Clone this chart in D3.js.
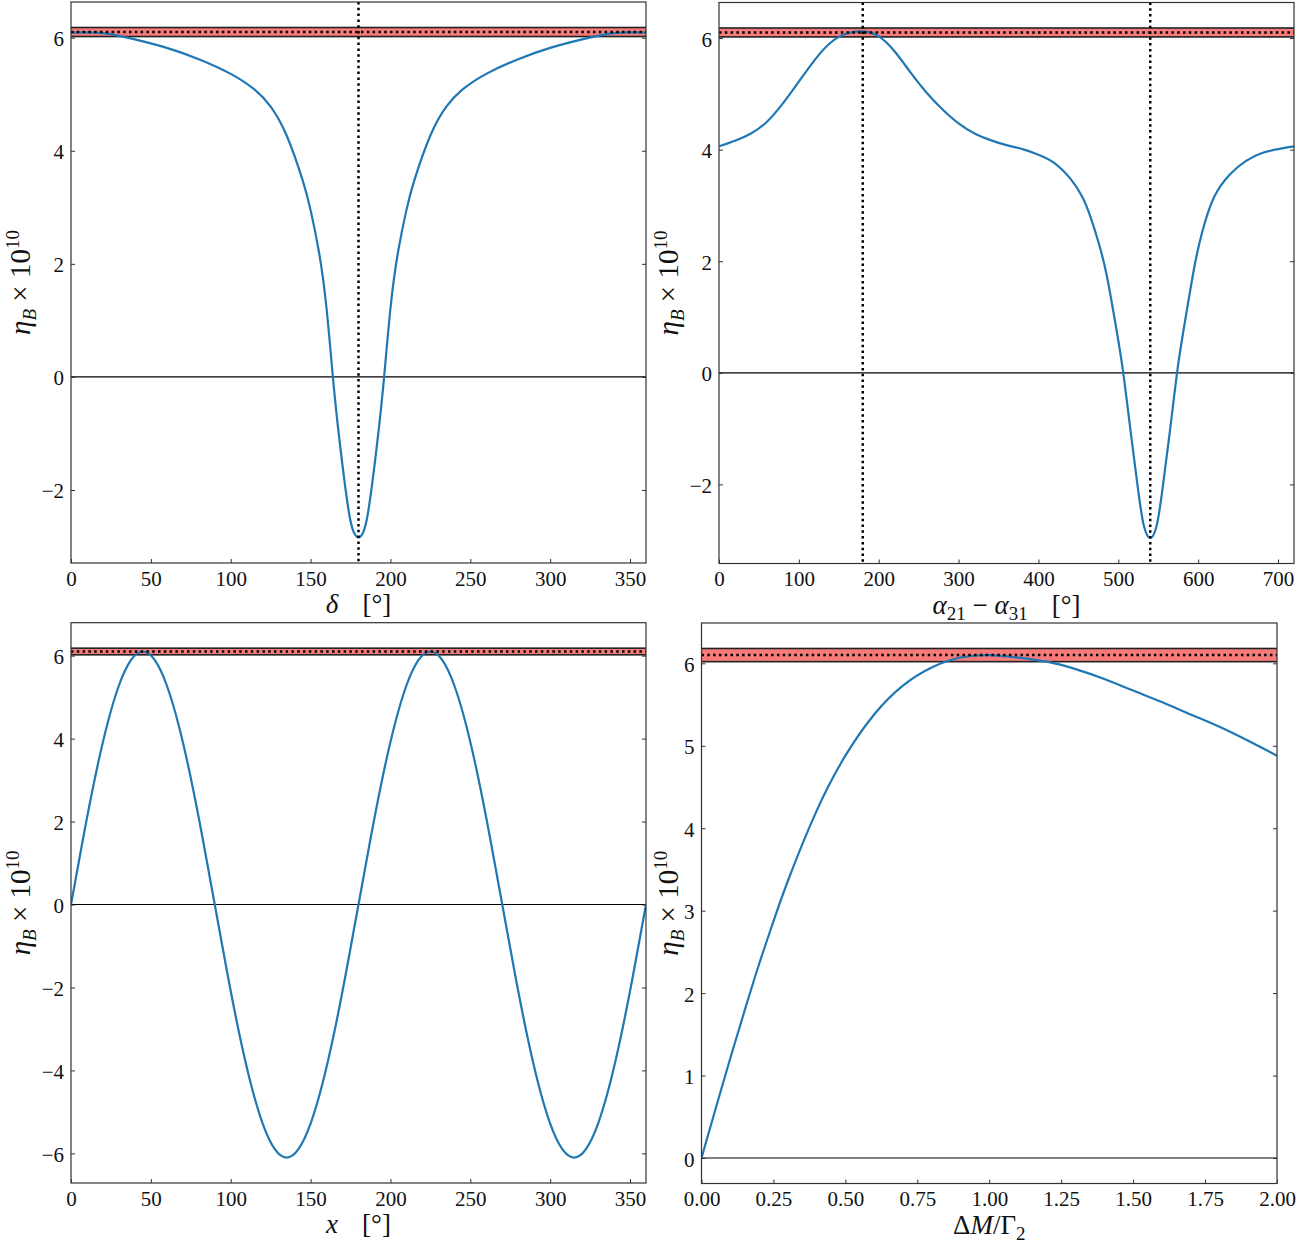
<!DOCTYPE html>
<html>
<head>
<meta charset="utf-8">
<script src="https://cdn.jsdelivr.net/npm/d3@7"></script>
<style>
  body { margin: 0; background: #fff; }
  svg text { font-family: "Liberation Serif", "DejaVu Serif", serif; fill: #111; }
</style>
</head>
<body>
<svg id="fig" width="1296" height="1242"></svg>
<script>
// ---- data ----
// eta_B x 10^10 against the Dirac phase delta
var deltaDeg = [0, 20, 40, 60, 80, 100, 115, 125, 135, 145, 150, 155, 160, 165, 170, 175, 180,
                185, 190, 195, 200, 205, 210, 215, 225, 235, 245, 260, 280, 300, 320, 340, 360];
var etaDelta = [6.09, 6.08, 5.97, 5.82, 5.62, 5.36, 5.08, 4.78, 4.27, 3.48, 2.95, 2.25, 1.21, -0.31, -1.57, -2.55, -2.84,
                -2.55, -1.57, -0.31, 1.21, 2.25, 2.95, 3.48, 4.27, 4.78, 5.08, 5.36, 5.62, 5.82, 5.97, 6.08, 6.09];

// against the Majorana phase difference alpha21 - alpha31
var alphaDiff = [0, 20, 40, 60, 80, 100, 120, 140, 160, 180, 200, 220, 240, 260, 280, 300, 320, 340, 360,
                 380, 400, 420, 440, 455, 465, 475, 485, 495, 505, 515, 525, 532, 540, 548, 555, 565, 575,
                 585, 595, 605, 620, 640, 660, 680, 700, 720];
var etaAlpha = [4.06, 4.16, 4.29, 4.50, 4.83, 5.22, 5.61, 5.92, 6.08, 6.12, 6.03, 5.76, 5.38, 5.02, 4.72, 4.47, 4.29, 4.17, 4.08,
                4.01, 3.91, 3.76, 3.48, 3.15, 2.80, 2.35, 1.78, 1.00, 0.12, -1.00, -2.12, -2.74, -2.96, -2.74, -2.12, -1.00, 0.15,
                1.05, 1.88, 2.52, 3.15, 3.56, 3.80, 3.94, 4.01, 4.06];

// against the complex angle x
var xDeg = [0, 7.5, 15, 22.5, 30, 37.5, 45, 52.5, 60, 67.5, 75, 82.5, 90, 97.5, 105, 112.5, 120, 127.5, 135,
            142.5, 150, 157.5, 165, 172.5, 180, 187.5, 195, 202.5, 210, 217.5, 225, 232.5, 240, 247.5, 255,
            262.5, 270, 277.5, 285, 292.5, 300, 307.5, 315, 322.5, 330, 337.5, 345, 352.5, 360];
var etaX = [0, 1.58, 3.05, 4.31, 5.28, 5.89, 6.10, 5.89, 5.28, 4.31, 3.05, 1.58, 0, -1.58, -3.05, -4.31, -5.28, -5.89, -6.10,
            -5.89, -5.28, -4.31, -3.05, -1.58, 0, 1.58, 3.05, 4.31, 5.28, 5.89, 6.10, 5.89, 5.28, 4.31, 3.05,
            1.58, 0, -1.58, -3.05, -4.31, -5.28, -5.89, -6.10, -5.89, -5.28, -4.31, -3.05, -1.58, 0];

// against the mass splitting Delta M / Gamma_2
var dmRatio = [0, 0.05, 0.1, 0.15, 0.2, 0.25, 0.3, 0.4, 0.5, 0.6, 0.7, 0.8, 0.9, 1.0,
               1.1, 1.2, 1.3, 1.4, 1.5, 1.6, 1.7, 1.8, 1.9, 2.0];
var etaDM = [0, 0.61, 1.21, 1.79, 2.35, 2.87, 3.36, 4.21, 4.88, 5.38, 5.73, 5.95, 6.07, 6.10,
             6.07, 6.02, 5.93, 5.81, 5.67, 5.53, 5.38, 5.23, 5.06, 4.88];

// observed value and its band
var etaObs = 6.10, bandLow = 6.02, bandHigh = 6.18;

var ticksDelta = [0, 50, 100, 150, 200, 250, 300, 350];
var ticksAlpha = [0, 100, 200, 300, 400, 500, 600, 700];
var ticksDM = [0, 0.25, 0.5, 0.75, 1.0, 1.25, 1.5, 1.75, 2.0];
var ticksEtaA = [-2, 0, 2, 4, 6];
var ticksEtaX = [-6, -4, -2, 0, 2, 4, 6];
var ticksEtaDM = [0, 1, 2, 3, 4, 5, 6];

var svg = d3.select("#fig");
var minus = function (v) { return v < 0 ? "\u2212" + Math.abs(v) : String(v); };

function yLabel(t) {
    t.append("tspan").attr("font-style", "italic").text("\u03b7");
    t.append("tspan").attr("font-style", "italic").attr("font-size", "19px").attr("dy", 6).text("B");
    t.append("tspan").attr("dy", -6).text(" \u00d7 10");
    t.append("tspan").attr("font-size", "19px").attr("dy", -11).text("10");
}

function drawPanel(p) {
    var g = svg.append("g");
    var lo = Math.min(d3.min(p.ys), bandLow), hi = Math.max(d3.max(p.ys), bandHigh);
    var pad = (hi - lo) * 0.05;

    var x = d3.scaleLinear().domain(p.xDomain).range([p.left, p.right]);
    var y = d3.scaleLinear().domain([lo - pad, hi + pad]).range([p.bottom, p.top]);

    var clipId = "clip" + p.id;
    svg.append("clipPath").attr("id", clipId)
        .append("rect")
        .attr("x", p.left).attr("y", p.top)
        .attr("width", p.right - p.left).attr("height", p.bottom - p.top);

    var plot = g.append("g").attr("clip-path", "url(#" + clipId + ")");

    // observed band
    plot.append("rect")
        .attr("x", p.left - 2).attr("width", p.right - p.left + 4)
        .attr("y", y(bandHigh)).attr("height", y(bandLow) - y(bandHigh))
        .style("fill", "#f77b7b")
        .style("stroke", "#222")
        .style("stroke-width", 1.6);

    // zero line
    plot.append("line")
        .attr("x1", p.left).attr("x2", p.right)
        .attr("y1", y(0)).attr("y2", y(0))
        .style("stroke", "#000").style("stroke-width", 1.1);

    // the curve
    var pts = p.xs.map(function (v, i) { return [v, p.ys[i]]; });
    plot.append("path")
        .datum(pts)
        .attr("d", d3.line()
            .x(function (d) { return x(d[0]); })
            .y(function (d) { return y(d[1]); })
            .curve(d3.curveNatural))
        .style("fill", "none")
        .style("stroke", "#1f77b4")
        .style("stroke-width", 2.2);

    // dotted central value
    plot.append("line")
        .attr("x1", p.left).attr("x2", p.right)
        .attr("y1", y(etaObs)).attr("y2", y(etaObs))
        .style("stroke", "#000").style("stroke-width", 2.5)
        .style("stroke-dasharray", "2.5,3.3");

    // dotted vertical markers
    (p.vlines || []).forEach(function (v) {
        plot.append("line")
            .attr("x1", x(v)).attr("x2", x(v))
            .attr("y1", p.top).attr("y2", p.bottom)
            .style("stroke", "#000").style("stroke-width", 2.5)
            .style("stroke-dasharray", "2.5,3.3");
    });

    // axes, ticks pointing inwards
    var ax = g.append("g").attr("transform", "translate(0," + p.bottom + ")")
        .call(d3.axisBottom(x).tickValues(p.xTicks).tickSize(-4).tickPadding(8).tickFormat(p.xFmt));
    var ay = g.append("g").attr("transform", "translate(" + p.left + ",0)")
        .call(d3.axisLeft(y).tickValues(p.yTicks).tickSize(-4).tickPadding(7).tickFormat(minus));
    var ar = g.append("g").attr("transform", "translate(" + p.right + ",0)")
        .call(d3.axisRight(y).tickValues(p.yTicks).tickSize(-4).tickFormat(""));
    [ax, ay, ar].forEach(function (a) {
        a.select(".domain").remove();
        a.selectAll("line").style("stroke", "#333").style("stroke-width", 1);
        a.selectAll("text").style("font-size", "21px")
            .style("font-family", "'Liberation Serif', 'DejaVu Serif', serif").style("fill", "#111");
    });
    ay.selectAll("text").attr("dy", "0.38em");

    // frame
    g.append("rect")
        .attr("x", p.left).attr("y", p.top)
        .attr("width", p.right - p.left).attr("height", p.bottom - p.top)
        .style("fill", "none").style("stroke", "#333").style("stroke-width", 1.2);

    // axis titles
    var xt = g.append("text")
        .attr("x", (p.left + p.right) / 2).attr("y", p.bottom + 50)
        .attr("text-anchor", "middle").style("font-size", "27px");
    p.xLabel(xt);

    g.append("text")
        .attr("transform", "translate(" + p.yLabelX + "," + ((p.top + p.bottom) / 2) + ") rotate(-90)")
        .attr("text-anchor", "middle").style("font-size", "29px")
        .call(yLabel);
}

var fmtInt = function (v) { return String(v); };

drawPanel({
    id: 1, left: 71, right: 646, top: 2, bottom: 563,
    xs: deltaDeg, ys: etaDelta, xDomain: [0, 360],
    xTicks: ticksDelta, xFmt: fmtInt, yTicks: ticksEtaA, vlines: [180], yLabelX: 30,
    xLabel: function (t) {
        t.append("tspan").attr("font-style", "italic").text("\u03b4");
        t.append("tspan").attr("dx", 24).text("[\u00b0]");
    }
});

drawPanel({
    id: 2, left: 719, right: 1294, top: 2.5, bottom: 563.5,
    xs: alphaDiff, ys: etaAlpha, xDomain: [0, 720],
    xTicks: ticksAlpha, xFmt: fmtInt, yTicks: ticksEtaA, vlines: [180, 540], yLabelX: 678,
    xLabel: function (t) {
        t.append("tspan").attr("font-style", "italic").text("\u03b1");
        t.append("tspan").attr("font-size", "19px").attr("dy", 6).text("21");
        t.append("tspan").attr("dy", -6).text(" \u2212 ");
        t.append("tspan").attr("font-style", "italic").text("\u03b1");
        t.append("tspan").attr("font-size", "19px").attr("dy", 6).text("31");
        t.append("tspan").attr("dy", -6).attr("dx", 24).text("[\u00b0]");
    }
});

drawPanel({
    id: 3, left: 71, right: 646, top: 622.7, bottom: 1183,
    xs: xDeg, ys: etaX, xDomain: [0, 360],
    xTicks: ticksDelta, xFmt: fmtInt, yTicks: ticksEtaX, vlines: [], yLabelX: 30,
    xLabel: function (t) {
        t.append("tspan").attr("font-style", "italic").text("x");
        t.append("tspan").attr("dx", 24).text("[\u00b0]");
    }
});

drawPanel({
    id: 4, left: 701.5, right: 1277, top: 623, bottom: 1183.5,
    xs: dmRatio, ys: etaDM, xDomain: [0, 2],
    xTicks: ticksDM, xFmt: d3.format(".2f"), yTicks: ticksEtaDM, vlines: [], yLabelX: 678,
    xLabel: function (t) {
        t.append("tspan").text("\u0394");
        t.append("tspan").attr("font-style", "italic").text("M");
        t.append("tspan").text("/\u0393");
        t.append("tspan").attr("font-size", "19px").attr("dy", 6).text("2");
    }
});
</script>
</body>
</html>
